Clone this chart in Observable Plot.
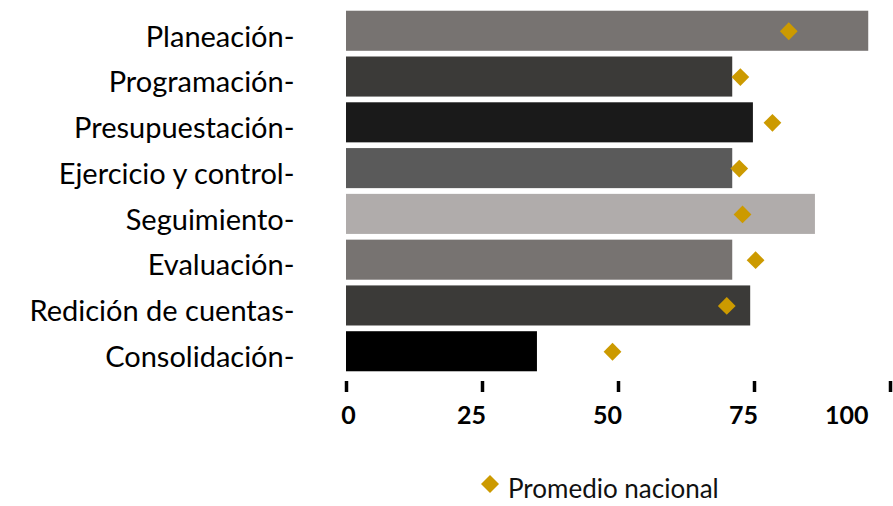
<!DOCTYPE html>
<html>
<head>
<meta charset="utf-8">
<script src="https://cdn.jsdelivr.net/npm/d3@7"></script>
<script src="https://cdn.jsdelivr.net/npm/@observablehq/plot@0.6"></script>
<style>
  body { margin: 0; background: #fff; font-family: Lato, "Open Sans", sans-serif; }
  #chart svg { display: block; }
  g[aria-label="x-axis tick label"] text { font-weight: bold; }
  g[aria-label="x-axis tick"] path { stroke-width: 3.5px; stroke: #000; }
  #legend { display: flex; align-items: center; padding-left: 480px; font-size: 26px; color: #111; height: 76px; }
  #legend svg { margin-right: 2px; }
</style>
</head>
<body>
<div id="chart"></div>
<div id="legend"></div>
<script>
const categories = ["Planeación", "Programación", "Presupuestación", "Ejercicio y control", "Seguimiento", "Evaluación", "Redición de cuentas", "Consolidación"];
const values = [96, 71, 74.8, 71, 86.2, 71, 74.3, 35.1];
const promedio = [81.3, 72.4, 78.3, 72.2, 72.8, 75.2, 69.9, 48.9];
const barColors = ["#777371", "#3b3a38", "#1a1a1a", "#5a5a5a", "#b0acab", "#777371", "#3b3a38", "#000000"];
const xTicks = [0, 25, 50, 75, 100];
const legendLabel = "Promedio nacional";
const diamondColor = "#cc9a00";

const data = categories.map((c, i) => ({cat: c, value: values[i], avg: promedio[i], color: barColors[i]}));

const axisText = {label: null, tickSize: 0, dy: 4, tickPadding: 25, fontSize: 25, tickFormat: d => String(d)};

const plot = Plot.plot({
  width: 893,
  height: 450,
  marginLeft: 346,
  marginRight: 3,
  marginTop: 5,
  marginBottom: 73,
  style: {fontFamily: "Lato, 'Open Sans', sans-serif", color: "#000", background: "#fff"},
  x: {domain: [0, 100], axis: null},
  y: {domain: categories, padding: 0.125, round: false, axis: null},
  marks: [
    Plot.barX(data, {y: "cat", x: "value", fill: "color"}),
    Plot.dot(data, {y: "cat", x: "avg", symbol: "diamond2", r: 8, fill: diamondColor, stroke: null}),
    Plot.axisY({label: null, tickSize: 0, tickPadding: 52, fontSize: 29, dy: 6, tickFormat: d => d + "-"}),
    Plot.axisX({label: null, ticks: xTicks, tickSize: 11, strokeWidth: 3.5, dy: 4, tickFormat: () => ""}),
    Plot.axisX({...axisText, ticks: xTicks.slice(0, 1), dx: 2}),
    Plot.axisX({...axisText, ticks: xTicks.slice(1, -1), dx: -11}),
    Plot.axisX({...axisText, ticks: xTicks.slice(-1), dx: -22, textAnchor: "end"})
  ]
});
document.getElementById("chart").appendChild(plot);

const lg = document.getElementById("legend");
lg.innerHTML = `<svg width="26" height="26"><path d="M13,4 L22,13 L13,22 L4,13 Z" fill="${diamondColor}" transform="translate(-3,-4)"/></svg><span>${legendLabel}</span>`;
</script>
</body>
</html>
